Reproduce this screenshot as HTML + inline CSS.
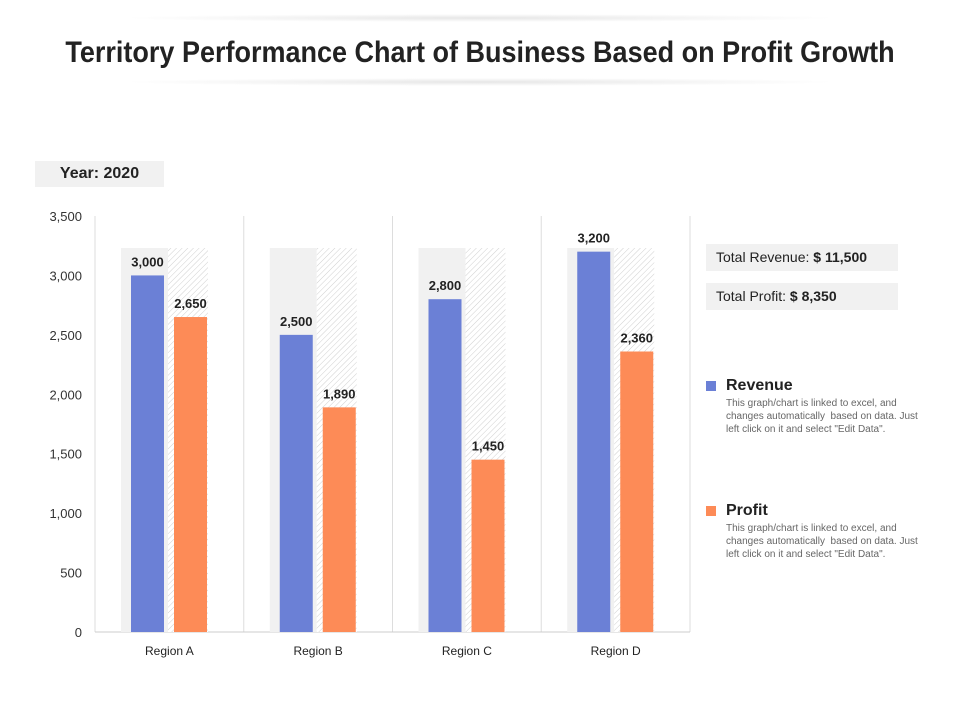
<!DOCTYPE html>
<html><head><meta charset="utf-8"><style>
body{margin:0;width:960px;height:720px;background:#fff;font-family:"Liberation Sans",sans-serif;position:relative;overflow:hidden}
.abs{position:absolute}
.desc{margin-left:20px;width:205px;font-size:10px;color:#666;line-height:13px;margin-top:2px}
</style></head><body>
<div class="abs" style="left:120px;top:14px;width:720px;height:8px;background:radial-gradient(ellipse at center,#e6e6e6 0%,rgba(255,255,255,0) 70%)"></div>
<div class="abs" style="left:0;top:36px;width:960px;text-align:center;font-family:'Liberation Sans Narrow','Liberation Sans',sans-serif;font-weight:bold;font-size:30px;color:#222;transform:scaleX(0.90)">Territory Performance Chart of Business Based on Profit Growth</div>
<div class="abs" style="left:120px;top:78px;width:720px;height:8px;background:radial-gradient(ellipse at center,#e6e6e6 0%,rgba(255,255,255,0) 70%)"></div>
<div class="abs" style="left:35px;top:161px;width:129px;height:26px;background:#f1f1f1;font-size:16px;font-weight:bold;line-height:26px;text-align:center;color:#222">Year: 2020</div>
<svg class="abs" style="left:0;top:0" width="960" height="720" id="chart">
<defs><pattern id="hatch" width="4" height="4" patternUnits="userSpaceOnUse" patternTransform="rotate(45)"><rect width="4" height="4" fill="#fff"/><line x1="0" y1="0" x2="0" y2="4" stroke="#d0d0d0" stroke-width="1"/></pattern></defs>
</svg>
<div class="abs" style="left:706px;top:244px;width:192px;height:27px;background:#f1f1f1;font-size:14px;line-height:27px;padding-left:10px;box-sizing:border-box;color:#222">Total Revenue: <b>$ 11,500</b></div>
<div class="abs" style="left:706px;top:283px;width:192px;height:27px;background:#f1f1f1;font-size:14px;line-height:27px;padding-left:10px;box-sizing:border-box;color:#222">Total Profit: <b>$ 8,350</b></div>
<div class="abs" style="left:706px;top:377px;width:230px">
<div style="position:absolute;left:0;top:4px;width:10px;height:10px;background:#6b80d6"></div>
<div style="margin-left:20px;font-weight:bold;font-size:16px;color:#222">Revenue</div>
<div class="desc">This graph/chart is linked to excel, and changes automatically &nbsp;based on data. Just left click on it and select "Edit Data".</div></div>
<div class="abs" style="left:706px;top:502px;width:230px">
<div style="position:absolute;left:0;top:4px;width:10px;height:10px;background:#fd8b57"></div>
<div style="margin-left:20px;font-weight:bold;font-size:16px;color:#222">Profit</div>
<div class="desc">This graph/chart is linked to excel, and changes automatically &nbsp;based on data. Just left click on it and select "Edit Data".</div></div>
<script>
const categories=["Region A","Region B","Region C","Region D"];
const revenue=[3000,2500,2800,3200];
const profit=[2650,1890,1450,2360];
const yTicks=[0,500,1000,1500,2000,2500,3000,3500];
const svg=document.getElementById('chart');
const NS='http://www.w3.org/2000/svg';
const x0=95,x1=690,y0=632,y1=216,ymax=3500;
const bw=(x1-x0)/categories.length;
const y=v=>y0-(v/ymax)*(y0-y1);
function mk(t,a){const e=document.createElementNS(NS,t);for(const k in a)e.setAttribute(k,a[k]);svg.appendChild(e);return e;}
yTicks.forEach(t=>{const e=mk('text',{x:82,y:y(t)+5,'text-anchor':'end','font-size':13,fill:'#333','font-family':'Liberation Sans'});e.textContent=t.toLocaleString('en-US');

});
for(let i=0;i<=categories.length;i++){const l=mk('line',{x1:x0+i*bw,x2:x0+i*bw,y1:y1,y2:y0,stroke:'#ddd'});

}
const ax=mk('line',{x1:x0,x2:x1,y1:y0,y2:y0,stroke:'#ccc'});


const fmt=v=>v.toLocaleString('en-US');
categories.forEach((c,i)=>{const cx=x0+i*bw;
const bg=mk('rect',{x:cx+26,y:248,width:47,height:y0-248,fill:'#f1f1f1'});


const hb=mk('rect',{x:cx+73,y:248,width:40,height:y0-248,fill:'url(#hatch)'});


const r=mk('rect',{x:cx+36,y:y(revenue[i]),width:33,height:y0-y(revenue[i]),fill:'#6b80d6'});


const p=mk('rect',{x:cx+79,y:y(profit[i]),width:33,height:y0-y(profit[i]),fill:'#fd8b57'});


const rl=mk('text',{x:cx+52.5,y:y(revenue[i])-9,'text-anchor':'middle','font-size':13,'font-weight':'bold',fill:'#222'});rl.textContent=fmt(revenue[i]);


const pl=mk('text',{x:cx+95.5,y:y(profit[i])-9,'text-anchor':'middle','font-size':13,'font-weight':'bold',fill:'#222'});pl.textContent=fmt(profit[i]);


const cl=mk('text',{x:cx+bw/2,y:655,'text-anchor':'middle','font-size':12,fill:'#222'});cl.textContent=c;


});
</script>
</body></html>
